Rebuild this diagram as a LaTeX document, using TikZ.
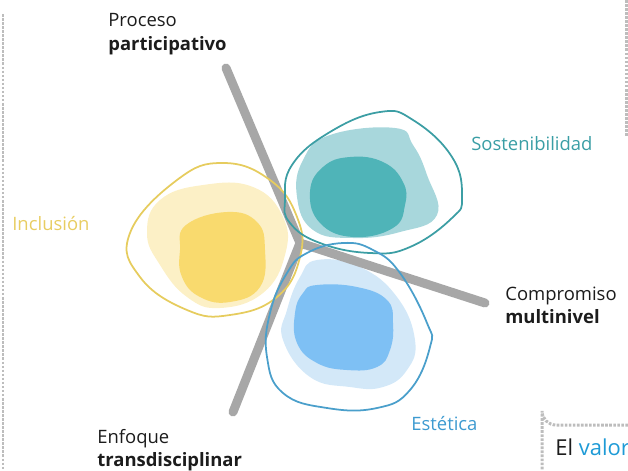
\documentclass[tikz,border=0pt]{standalone}
\usepackage{fontspec}
\setmainfont{Open Sans}
\definecolor{spokegray}{HTML}{A7A7A7}
\definecolor{dotgray}{HTML}{BDBDBD}
\definecolor{inkdark}{HTML}{1C1C1C}
\definecolor{yelRim}{HTML}{E6CC5E}
\definecolor{yelPale}{HTML}{FCF0C6}
\definecolor{yelCore}{HTML}{F9DA6E}
\definecolor{yelText}{HTML}{E8CD62}
\definecolor{tealRim}{HTML}{3C9EA4}
\definecolor{tealPale}{HTML}{A8D7DC}
\definecolor{tealCore}{HTML}{4FB4B8}
\definecolor{tealText}{HTML}{3A9EA5}
\definecolor{bluRim}{HTML}{4A9FCB}
\definecolor{bluPale}{HTML}{D3E8F8}
\definecolor{bluCore}{HTML}{7EC0F4}
\definecolor{bluText}{HTML}{3D9AD0}
\definecolor{valorBlue}{HTML}{1D9AD6}
\tikzset{
  lbl/.style={anchor=base west, inner sep=0pt, text=inkdark, font=\fontsize{10.5}{12}\selectfont},
  spoke/.style={line width=5.1pt, draw=spokegray, line cap=round},
  rim/.style={line width=1pt},
  dots/.style={draw=dotgray, line width=1.7pt, dash pattern=on 1.5pt off 0.8pt},
  blob/.style={smooth cycle, tension=0.75},
}
\begin{document}
\begin{tikzpicture}[x=0.02cm, y=-0.02cm]
            \useasboundingbox (0,0) rectangle (628,470);
            % dotted frames
            \draw[dots] (3,14) -- (3,470);
            \draw[dots] (626,0) -- (626,137);
            \draw[dots] (628,425) -- (556,425) arc[start angle=90, end angle=180, radius=14] -- (542,470);
            % fills
            \fill[yelPale] plot[blob] coordinates {(203,185) (253,187) (283,217) (285,255) (263,293) (220,308) (187,297) (160,265) (147,233) (160,200)};
            \fill[yelCore] plot[blob] coordinates {(227,212) (257,222) (265,250) (260,287) (230,302) (200,297) (182,277) (180,250) (186,225)};
            \fill[tealPale] plot[blob] coordinates {(330,135) (395,128) (413,145) (427,175) (437,215) (400,232) (353,238) (313,230) (297,197) (303,160)};
            \fill[tealCore] plot[blob] coordinates {(350,157) (383,162) (403,182) (405,205) (393,228) (353,237) (320,223) (310,192) (323,167)};
            \fill[bluPale] plot[blob] coordinates {(317,260) (360,267) (397,297) (415,340) (407,370) (383,387) (350,387) (310,377) (283,340) (287,310) (300,277)};
            \fill[bluCore] plot[blob] coordinates {(317,285) (357,287) (387,300) (393,323) (390,350) (377,367) (347,370) (317,363) (297,343) (295,313) (303,293)};
            % spokes
            \coordinate (C) at (300,243);
            \coordinate (P) at (226,68);
            \coordinate (M) at (485,303);
            \coordinate (T) at (233,412);
            \draw[spoke] (P) -- (C);
            \draw[spoke] (C) -- (M);
            \draw[spoke] (C) -- (T);
            % outlines
            \draw[rim, yelRim] plot[blob] coordinates {(223,163) (270,180) (297,217) (300,257) (277,297) (230,315) (187,310) (140,277) (130,233) (177,180)};
            \draw[rim, tealRim] plot[blob] coordinates {(380,112) (413,120) (452,157) (462,197) (452,218) (410,247) (370,253) (320,243) (290,223) (285,200) (292,165) (330,132)};
            \draw[rim, bluRim] plot[blob] coordinates {(343,243) (373,250) (400,273) (427,323) (430,347) (410,390) (377,408) (327,408) (283,393) (267,357) (270,313) (287,273) (307,253)};
            % labels
            \node[lbl] (proc) at (108,27) {Proceso};
            \node[lbl] (part) at (108,50) {\bfseries participativo};
            \node[lbl, text=tealText] (sost) at (471,150) {Sostenibilidad};
            \node[lbl, text=yelText] (incl) at (12,230) {Inclusión};
            \node[lbl] (comp) at (505,300) {Compromiso};
            \node[lbl] (mult) at (505,323) {\bfseries multinivel};
            \node[lbl, text=bluText] (este) at (411,430) {Estética};
            \node[lbl] (enfo) at (97,443) {Enfoque};
            \node[lbl] (tran) at (97,466) {\bfseries transdisciplinar};
            \node[lbl, font=\fontsize{12.5}{14}\selectfont] (valor) at (555,455) {El \textcolor{valorBlue}{valor}};
        \end{tikzpicture}
\end{document}
